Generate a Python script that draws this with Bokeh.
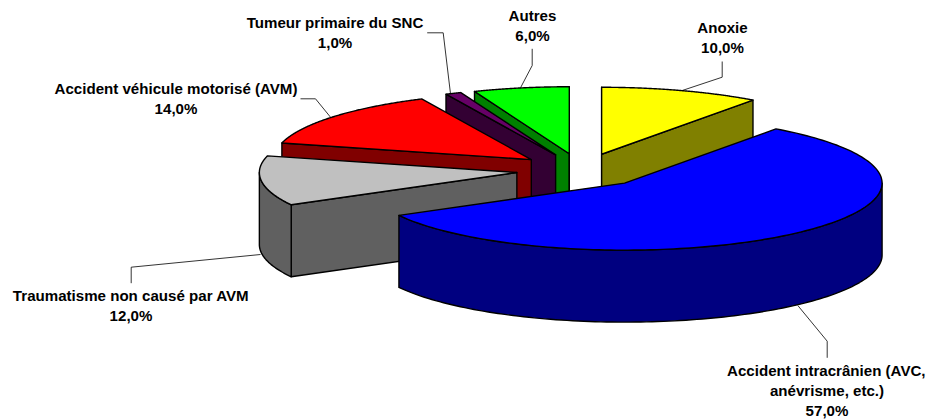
import numpy as np
from bokeh.plotting import figure
from bokeh.models import Range1d, ColumnDataSource
from bokeh.core.properties import value
from bokeh.embed import file_html
from bokeh.resources import INLINE

categories = ["Anoxie", "Accident intracrânien (AVC, anévrisme, etc.)", "Traumatisme non causé par AVM",
              "Accident véhicule motorisé (AVM)", "Tumeur primaire du SNC", "Autres"]
shares = [10.0, 57.0, 12.0, 14.0, 1.0, 6.0]
top_colors = ["#FFFF00", "#0000FF", "#C0C0C0", "#FF0000", "#660066", "#00FF00"]
side_colors = ["#808000", "#000080", "#606060", "#800000", "#330033", "#008000"]
draw_order = [0, 5, 4, 3, 2, 1]

# Projection of the tilted pie onto the page
CX, CY = 581.0, 169.9
RX, RY = 257.5, 67.0
DEPTH = 72.0
EXPLODE = 0.253

label_lines = [
    ("Anoxie", 722, 27), ("10,0%", 722, 47),
    ("Accident intracrânien (AVC,", 825.8, 370), ("anévrisme, etc.)", 826.5, 390), ("57,0%", 826.5, 410),
    ("Traumatisme non causé par AVM", 130.5, 295), ("12,0%", 130.5, 315),
    ("Accident véhicule motorisé (AVM)", 175.5, 88), ("14,0%", 175.5, 108),
    ("Tumeur primaire du SNC", 334.5, 22), ("1,0%", 334.5, 42),
    ("Autres", 532, 15), ("6,0%", 532, 35),
]
leaders = [
    ([721.7, 721.7, 681.7], [61, 76.7, 90]),
    ([826.7, 826.7, 797.3], [357.3, 340.7, 305]),
    ([130.7, 130.7, 260], [282.7, 266.7, 254]),
    ([300, 315, 330], [98.3, 98.3, 116.7]),
    ([426.7, 442.7, 450], [32.3, 32.3, 93.3]),
    ([531.7, 531.7, 520], [48.3, 65, 87.3]),
]

p = figure(width=926, height=419, output_backend="svg", toolbar_location=None,
           x_range=Range1d(0, 926), y_range=Range1d(419, 0), min_border=0,
           x_axis_type=None, y_axis_type=None, outline_line_color=None)
p.grid.visible = False
p.background_fill_color = "white"
p.border_fill_color = "white"

total = sum(shares)
edges = np.cumsum([0.0] + shares) / total * 2 * np.pi


def rim(ax, ay, t):
    return ax + RX * np.sin(t), ay - RY * np.cos(t)


def face(xs, ys, color):
    p.patch(list(xs), list(ys), fill_color=color, line_color="black", line_width=1.4, line_join="round")


for i in draw_order:
    t0, t1 = edges[i], edges[i + 1]
    mid = (t0 + t1) / 2
    ax = CX + EXPLODE * RX * np.sin(mid)
    ay = CY - EXPLODE * RY * np.cos(mid)
    # radial faces that look towards the viewer
    for t, normal in ((t0, t0 - np.pi / 2), (t1, t1 + np.pi / 2)):
        if np.cos(normal) < 1e-6:
            rx, ry = rim(ax, ay, t)
            face([ax, rx, rx, ax], [ay, ry, ry + DEPTH, ay + DEPTH], side_colors[i])
    # outer wall: the part of the rim on the near side
    lo, hi = max(t0, np.pi / 2), min(t1, 3 * np.pi / 2)
    if lo < hi:
        ts = np.linspace(lo, hi, 120)
        rx, ry = rim(ax, ay, ts)
        face(np.r_[rx, rx[::-1]], np.r_[ry, ry[::-1] + DEPTH], side_colors[i])
    # top
    ts = np.linspace(t0, t1, 160)
    rx, ry = rim(ax, ay, ts)
    face(np.r_[ax, rx], np.r_[ay, ry], top_colors[i])

for xs, ys in leaders:
    p.line(xs, ys, line_color="black", line_width=0.8)

src = ColumnDataSource(dict(text=[l[0] for l in label_lines], x=[l[1] for l in label_lines],
                            y=[l[2] for l in label_lines]))
p.text("x", "y", text="text", source=src, text_font=value("Liberation Sans"), text_font_style="bold",
       text_font_size="15.1px", text_color="black", text_align="center", text_baseline="middle")

open("out.html", "w").write(file_html(p, INLINE))
